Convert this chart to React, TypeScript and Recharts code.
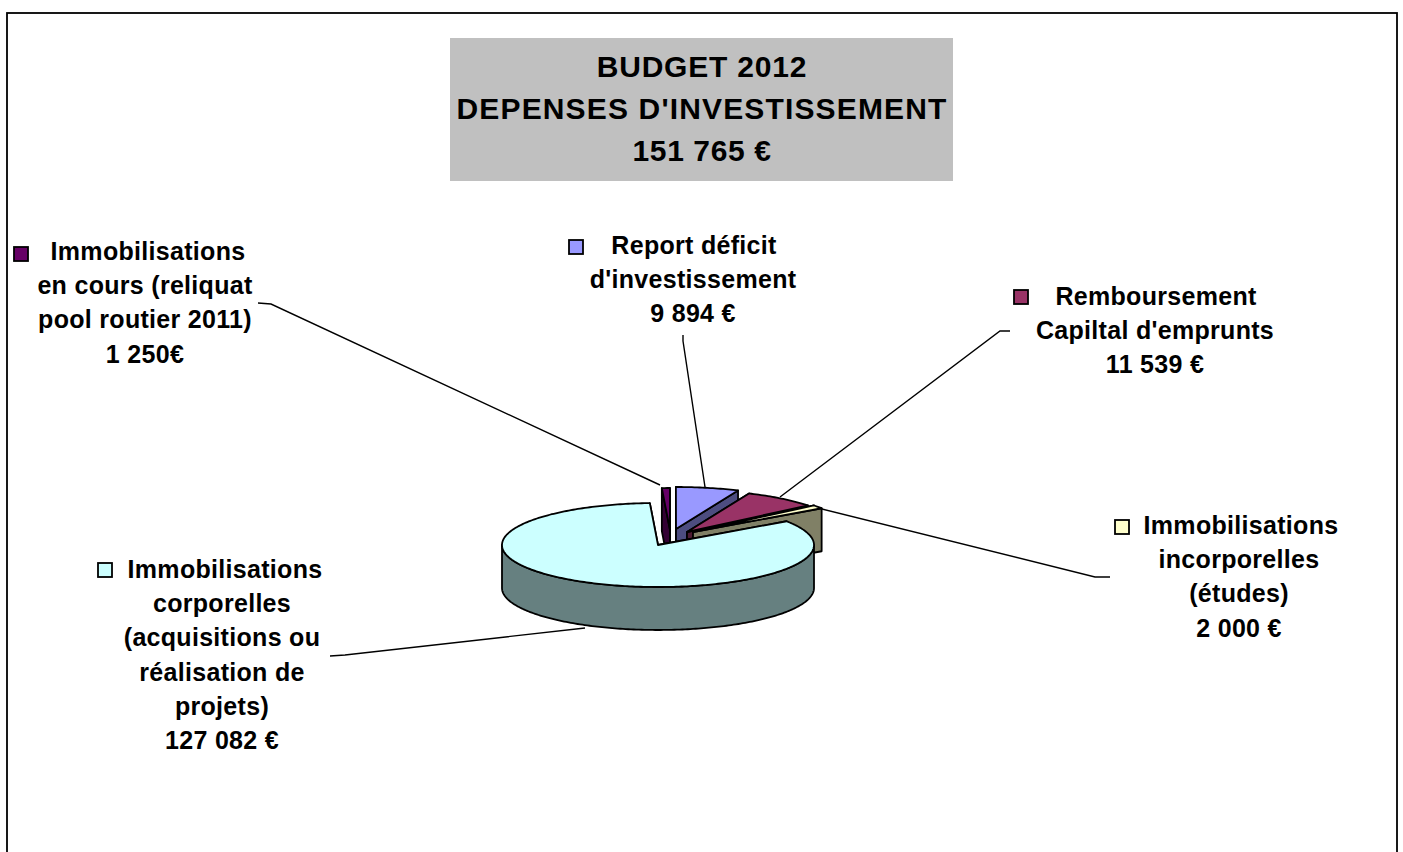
import React from "react";
import { Pie, PieChart } from "recharts";

const categories = [
  "Immobilisations en cours",
  "Report déficit d'investissement",
  "Remboursement Capital d'emprunts",
  "Immobilisations incorporelles",
  "Immobilisations corporelles",
];
const values = [1250, 9894, 11539, 2000, 127082];
const topColors = ["#660066", "#9999FF", "#993366", "#FFFFCC", "#CCFFFF"];
const sideColors = ["#330033", "#4D4D80", "#4D1A33", "#808066", "#668080"];

const titleLines = ["BUDGET 2012", "DEPENSES D'INVESTISSEMENT", "151 765 €"];
const labelLines = [
  ["Immobilisations", "en cours (reliquat", "pool routier 2011)", "1 250€"],
  ["Report déficit", "d'investissement", "9 894 €"],
  ["Remboursement", "Capiltal d'emprunts", "11 539 €"],
  ["Immobilisations", "incorporelles", "(études)", "2 000 €"],
  ["Immobilisations", "corporelles", "(acquisitions ou", "réalisation de", "projets)", "127 082 €"],
];

// layout, per slice in the same order as categories
const explode = [[12, -15], [18, -16], [29, -13], [35, -13], [0, 0]];
const labelPos = [
  { x: 145, y: 260, first: 3, key: [14, 247] },
  { x: 693, y: 254, first: 1, key: [569, 240] },
  { x: 1155, y: 305, first: 1, key: [1014, 290] },
  { x: 1239, y: 534, first: 2, key: [1115, 520] },
  { x: 222, y: 578, first: 3, key: [98, 563] },
];
const leaders = [
  "258,303 271,304 660,485",
  "683,335 683,341 705,487",
  "1010,331 1000,331 780,497",
  "1110,577 1095,577 818,508",
  "330,656 345,655 585,628",
];
const titleSpacing = [0.8, 1.15, 0.6];

const TILT = 42 / 156;
const DEPTH = 43;
const FONT = "'Liberation Sans', Arial, sans-serif";

const data = categories.map((name, i) => ({ name, value: values[i] }));

const sweep = (from: number, to: number) => {
  const steps = Math.max(2, Math.ceil(Math.abs(from - to)));
  const out: number[] = [];
  for (let s = 0; s <= steps; s++) out.push(from + ((to - from) * s) / steps);
  return out;
};

function Slice3D(props: any) {
  const { cx, cy, outerRadius, startAngle, endAngle } = props;
  const i = categories.indexOf(props.payload?.name ?? props.name);
  const ox = cx + explode[i][0];
  const oy = cy + explode[i][1];
  const at = (deg: number, z = 0): string => {
    const a = (deg * Math.PI) / 180;
    const x = ox + outerRadius * Math.cos(a);
    const y = oy - outerRadius * TILT * Math.sin(a) + z;
    return `${x},${y}`;
  };
  const arc = sweep(startAngle, endAngle);
  // only the front half of the rim shows
  const rimFrom = Math.min(startAngle, 0);
  const rimTo = Math.max(endAngle, -180);
  const rim = rimFrom > rimTo ? sweep(rimFrom, rimTo) : [];
  const apex = `${ox},${oy}`;
  const apexLow = `${ox},${oy + DEPTH}`;
  const line = { stroke: "#000", strokeWidth: 1.8, strokeLinejoin: "round" as const };
  return (
    <g>
      <polygon points={[apex, at(startAngle), at(startAngle, DEPTH), apexLow].join(" ")} fill={sideColors[i]} {...line} />
      <polygon points={[apex, at(endAngle), at(endAngle, DEPTH), apexLow].join(" ")} fill={sideColors[i]} {...line} />
      {rim.length > 0 && (
        <polygon
          points={[...rim.map((d) => at(d)), ...[...rim].reverse().map((d) => at(d, DEPTH))].join(" ")}
          fill={sideColors[i]}
          {...line}
        />
      )}
      <polygon points={[apex, ...arc.map((d) => at(d))].join(" ")} fill={topColors[i]} {...line} />
    </g>
  );
}

export default function App() {
  return (
    <div style={{ position: "absolute", left: 0, top: 0, width: 1403, height: 852, overflow: "hidden", background: "#fff" }}>
      <PieChart width={1403} height={852} margin={{ top: 0, right: 0, bottom: 0, left: 0 }}>
        <rect x={7} y={13} width={1390} height={860} fill="#fff" stroke="#000" strokeWidth={1.8} />
        <rect x={450} y={38} width={503} height={143} fill="#C0C0C0" />
        {titleLines.map((t, i) => (
          <text key={t} x={702} y={[77, 119, 161][i]} textAnchor="middle" fontFamily={FONT} fontWeight="bold" fontSize={30} letterSpacing={titleSpacing[i]} fill="#000">
            {t}
          </text>
        ))}
        {leaders.map((p) => (
          <polyline key={p} points={p} fill="none" stroke="#000" strokeWidth={1.4} />
        ))}
        <Pie
          data={data}
          dataKey="value"
          nameKey="name"
          cx={658}
          cy={545}
          innerRadius={0}
          outerRadius={156}
          startAngle={93}
          endAngle={-267}
          stroke="none"
          shape={Slice3D}
          isAnimationActive={false}
          legendType="none"
        />
        {labelLines.map((lines, i) => (
          <g key={categories[i]}>
            <rect x={labelPos[i].key[0]} y={labelPos[i].key[1]} width={14} height={14} fill={topColors[i]} stroke="#000" strokeWidth={1.8} />
            {lines.map((t, j) => (
              <text
                key={j}
                x={labelPos[i].x + (j === 0 ? labelPos[i].first : 0)}
                y={labelPos[i].y + j * 34.2}
                textAnchor="middle"
                fontFamily={FONT}
                fontWeight="bold"
                fontSize={25}
                letterSpacing={0.3}
                fill="#000"
              >
                {t}
              </text>
            ))}
          </g>
        ))}
      </PieChart>
    </div>
  );
}
